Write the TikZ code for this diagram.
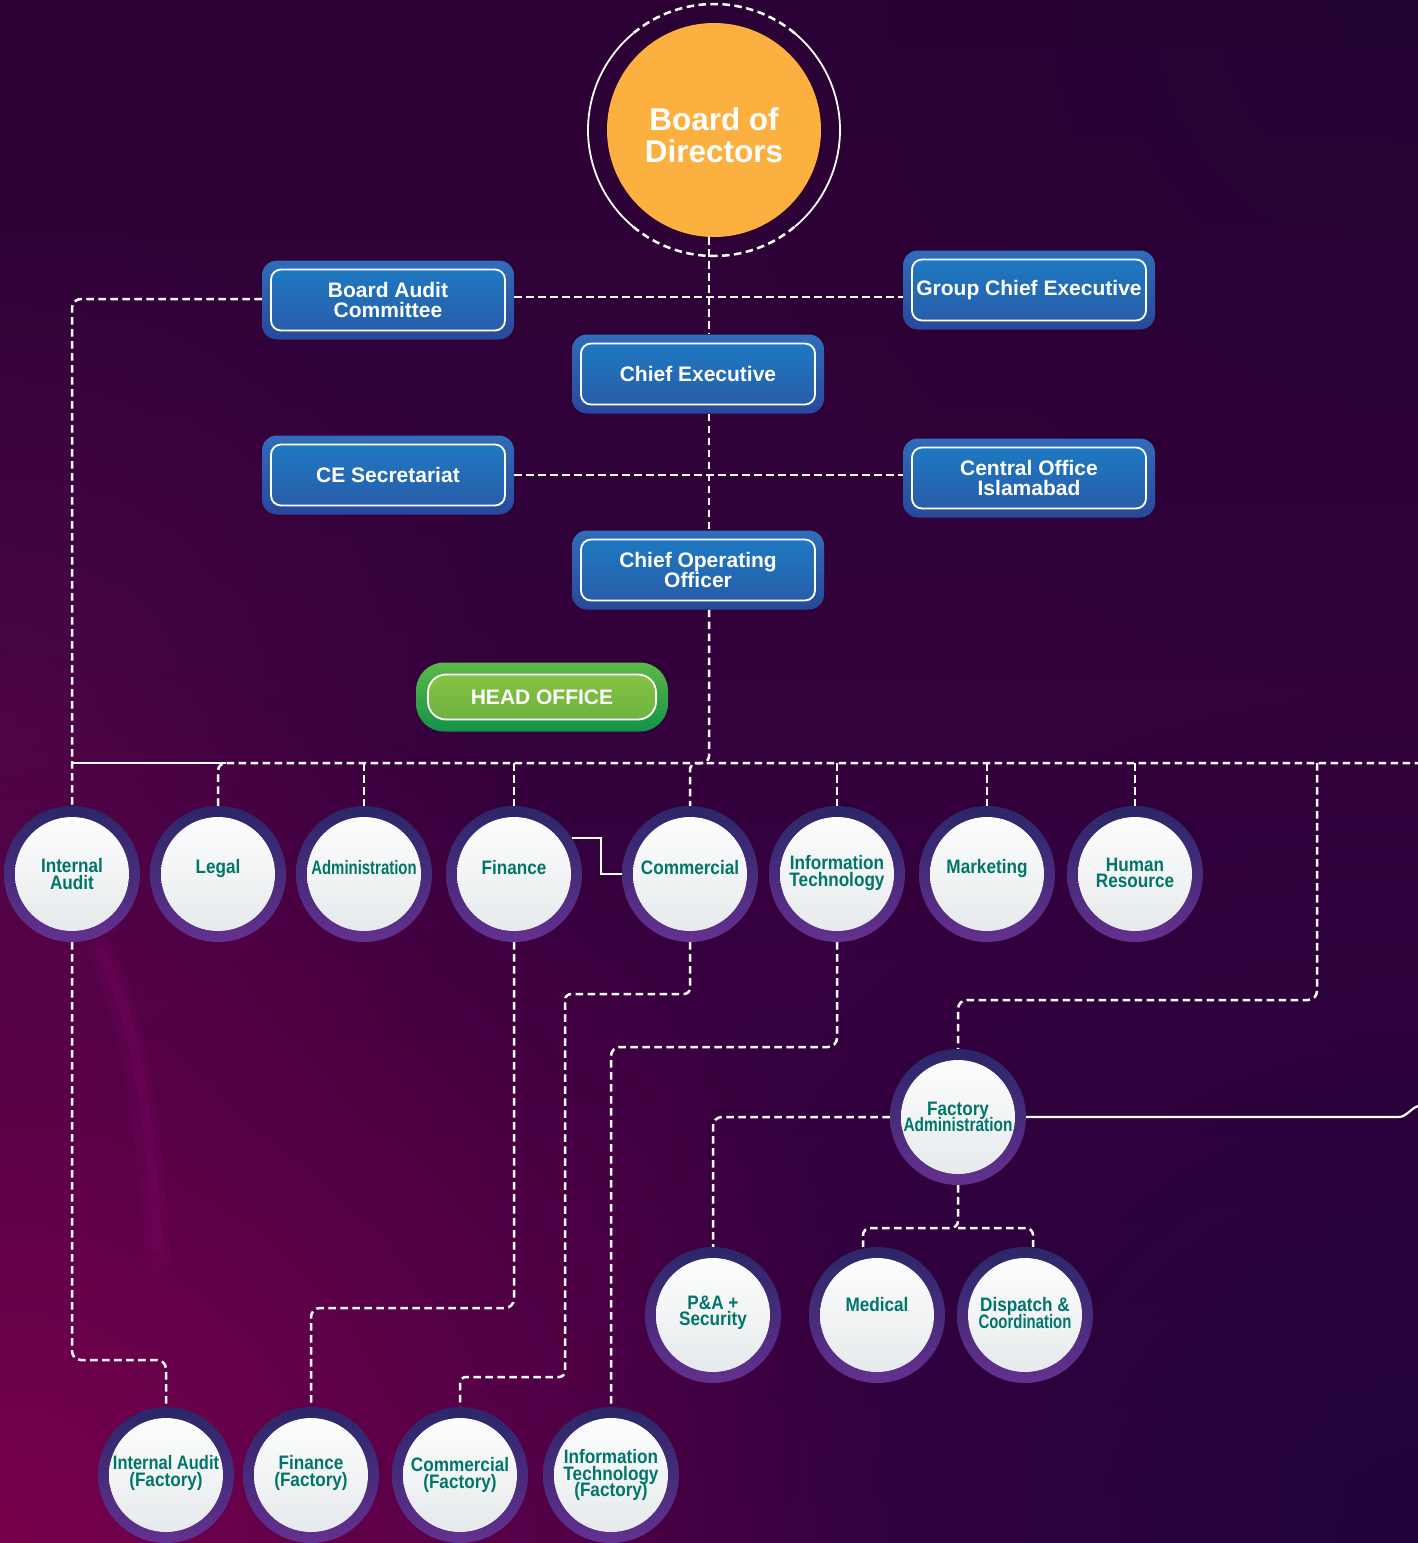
\documentclass[tikz,border=0pt]{standalone}
\usepackage{fontspec}
\usepackage{graphicx}
\setmainfont{Liberation Sans}
\newfontfamily\lblfont[FakeStretch=0.88]{Liberation Sans}
\usetikzlibrary{fadings}
\definecolor{bgTop}{HTML}{2B0134}
\definecolor{bgBot}{HTML}{3C0044}
\definecolor{bgMag}{HTML}{7C004E}
\definecolor{bgMid}{HTML}{55084C}
\definecolor{bgBlue}{HTML}{170535}
\definecolor{streakC}{HTML}{8A0A75}
\definecolor{bodC}{HTML}{FBB040}
\definecolor{bbOutTop}{HTML}{2F6DBA}
\definecolor{bbOutBot}{HTML}{28489A}
\definecolor{bbInTop}{HTML}{1C7DC4}
\definecolor{bbInBot}{HTML}{2A59A6}
\definecolor{gbOutTop}{HTML}{5DB846}
\definecolor{gbOutBot}{HTML}{12924A}
\definecolor{gbInTop}{HTML}{8DC640}
\definecolor{gbInBot}{HTML}{68AE42}
\definecolor{ringTop}{HTML}{2A2768}
\definecolor{ringBot}{HTML}{65308F}
\definecolor{discBot}{HTML}{E4E8EA}
\definecolor{tealC}{HTML}{00766A}
\tikzfading[name=glowfade, inner color=transparent!0, outer color=transparent!100]
\pgfdeclarelayer{back}
\pgfdeclarelayer{lines}
\pgfsetlayers{back,lines,main}
\tikzset{
  dline/.style={white, line width=2.5pt, dash pattern=on 7.5pt off 4.5pt},
  sline/.style={white, line width=2.2pt},
  ringsolid/.style={white, line width=1.8pt},
  bluebox/.style={rectangle, rounded corners=15pt, minimum width=252pt, minimum height=79pt, inner sep=0pt,
    top color=bbOutTop, bottom color=bbOutBot, text=white, align=center,
    font={\bfseries\fontsize{21}{20}\selectfont\lineskiplimit=-20pt},
    path picture={\shadedraw[top color=bbInTop, bottom color=bbInBot, draw=white, line width=1.8pt, rounded corners=10pt]
      ([shift={(9pt,9pt)}]path picture bounding box.south west) rectangle ([shift={(-9pt,-9pt)}]path picture bounding box.north east);}},
  greenbox/.style={rectangle, rounded corners=28pt, minimum width=252pt, minimum height=69pt, inner sep=0pt,
    top color=gbOutTop, bottom color=gbOutBot, text=white, align=center,
    font={\bfseries\fontsize{21}{20}\selectfont},
    path picture={\shadedraw[top color=gbInTop, bottom color=gbInBot, draw=white, line width=1.8pt, rounded corners=18pt]
      ([shift={(12pt,12pt)}]path picture bounding box.south west) rectangle ([shift={(-12pt,-12pt)}]path picture bounding box.north east);}},
  unit/.style={circle, minimum size=136pt, inner sep=0pt, top color=ringTop, bottom color=ringBot,
    path picture={\shade[top color=white, bottom color=discBot] (path picture bounding box.center) circle (57pt);}},
  lbl/.style={text=tealC, align=center, inner sep=0pt,
    font={\lblfont\bfseries\fontsize{19.5}{16.3}\selectfont\lineskiplimit=-20pt}},
}
\newcommand\unitat[4]{\node[unit] (#1) at (#2) {};
  \node[lbl] (#1t) at ([yshift=#4]#1.center) {#3};}
\begin{document}
\begin{tikzpicture}[x=1pt,y=-1pt]
\useasboundingbox (0,0) rectangle (1418,1543);
% ---------- background
\begin{pgfonlayer}{back}
\begin{scope}
\clip (0,0) rectangle (1418,1543);
\shade[top color=bgTop, bottom color=bgBot] (0,0) rectangle (1418,1543);
\fill[bgMid, path fading=glowfade, fill opacity=0.7] (0,720) circle (520pt);
\fill[bgMag, path fading=glowfade, fill opacity=0.95] (0,1543) circle (900pt);
\fill[bgBlue, path fading=glowfade, fill opacity=0.75] (1418,1543) circle (850pt);
\fill[bgBlue, path fading=glowfade, fill opacity=0.4] (1418,0) circle (700pt);
\draw[streakC, line width=26pt, opacity=0.12, line cap=round] (100,950) .. controls (135,1020) and (148,1120) .. (158,1260);
\draw[streakC, line width=10pt, opacity=0.18, line cap=round] (100,950) .. controls (137,1022) and (150,1120) .. (158,1250);
\end{scope}
\end{pgfonlayer}
% ---------- top nodes
\node[circle, fill=bodC, minimum size=214pt, inner sep=0pt] (bod) at (714,130) {};
\node[text=white, align=center, inner sep=0pt, font={\bfseries\fontsize{31.5}{32}\selectfont}]
  (bodt) at ([yshift=-5pt]bod.center) {Board of\\Directors};
\node[bluebox] (bac) at (388,300) {Board Audit\\Committee};
\node[bluebox] (gce) at (1029,290) {Group Chief Executive};
\node[bluebox] (ce) at (698,374) {Chief Executive};
\node[bluebox] (ces) at (388,475) {CE Secretariat};
\node[bluebox] (coi) at (1029,478) {Central Office\\Islamabad};
\node[bluebox] (coo) at (698,570) {Chief Operating\\Officer};
\node[greenbox] (ho) at (542,697) {HEAD OFFICE};
% ---------- units
\unitat{ia}{72,874}{Internal\\Audit}{0pt}
\unitat{lg}{218,874}{Legal}{6pt}
\unitat{ad}{364,874}{\scalebox{0.87}[1]{Administration}}{6pt}
\unitat{fi}{514,874}{Finance}{6pt}
\unitat{cm}{690,874}{Commercial}{6pt}
\unitat{it}{837,874}{Information\\Technology}{1pt}
\unitat{mk}{987,874}{Marketing}{6pt}
\unitat{hr}{1135,874}{Human\\Resource}{1pt}
\unitat{fa}{958,1117}{Factory\\\scalebox{0.9}[1]{Administration}}{0pt}
\unitat{pa}{713,1315}{P\&A +\\Security}{2pt}
\unitat{md}{877,1315}{Medical}{10pt}
\unitat{dc}{1025,1315}{Dispatch \&\\\scalebox{0.87}[1]{Coordination}}{2pt}
\unitat{iaf}{166,1475}{\scalebox{0.96}[1]{Internal Audit}\\(Factory)}{2pt}
\unitat{fif}{311,1475}{Finance\\(Factory)}{2pt}
\unitat{cmf}{460,1475}{Commercial\\(Factory)}{0pt}
\unitat{itf}{611,1475}{Information\\Technology\\(Factory)}{0pt}
% ---------- helper coordinates
\coordinate (sp) at (709,0);
\coordinate (bus) at (0,763);
\coordinate (busR) at (1418,763);
\coordinate (solidEnd) at (226,763);
\coordinate (j1) at (709,297);
\coordinate (j2) at (0,299);
\coordinate (rdrop) at (1317,0);
\coordinate (j3) at (0,1000);
\coordinate (j4) at (0,1360);
\coordinate (j5) at (0,1308);
\coordinate (j6) at (0,994);
\coordinate (j7) at (565,0);
\coordinate (j8) at (0,1377);
\coordinate (j9) at (0,1047);
\coordinate (j10) at (0,1228);
\coordinate (mdin) at ([xshift=-14pt]md.north);
\coordinate (dcin) at ([xshift=8pt]dc.north);
\coordinate (faR) at (1398,0);
\coordinate (edgeR) at (1418,1106);
% ---------- connectors
\begin{pgfonlayer}{lines}
\draw[ringsolid] ([shift={(130:126pt)}]bod.center) arc[start angle=130, end angle=230, radius=126pt];
\draw[ringsolid] ([shift={(-50:126pt)}]bod.center) arc[start angle=-50, end angle=50, radius=126pt];
\draw[dline] ([shift={(50:126pt)}]bod.center) arc[start angle=50, end angle=130, radius=126pt];
\draw[dline] ([shift={(230:126pt)}]bod.center) arc[start angle=230, end angle=310, radius=126pt];
\draw[dline] (bod.south -| sp) -- (ce.north -| sp);
\draw[dline] (ce.south -| sp) -- (coo.north -| sp);
\draw[dline, rounded corners=7pt] (coo.south -| sp) -- (sp |- bus) -- (cm.north |- bus) -- (cm.north);
\draw[dline] (bac.east |- j1) -- (gce.west |- j1);
\draw[dline] (ces.east) -- (ces.east -| coi.west);
\draw[dline, rounded corners=9pt] (bac.west |- j2) -- (ia.north |- j2) -- (ia.north);
\draw[sline] (ia.north |- bus) -- (solidEnd);
\draw[dline, rounded corners=8pt] (lg.north) -- (lg.north |- bus) -- (busR);
\foreach \n in {ad,fi,it,mk,hr} \draw[dline] (\n.north |- bus) -- (\n.north);
\draw[dline, rounded corners=9pt] (rdrop |- bus) -- (rdrop |- j3) -- (fa.north |- j3) -- (fa.north);
\draw[dline, rounded corners=9pt] (ia.south) -- (ia.south |- j4) -- (iaf.north |- j4) -- (iaf.north);
\draw[dline, rounded corners=9pt] (fi.south) -- (fi.south |- j5) -- (fif.north |- j5) -- (fif.north);
\draw[dline, rounded corners=6pt] (cm.south) -- (cm.south |- j6) -- (j7 |- j6) -- (j7 |- j8) -- (cmf.north |- j8) -- (cmf.north);
\draw[dline, rounded corners=9pt] (it.south) -- (it.south |- j9) -- (itf.north |- j9) -- (itf.north);
\draw[dline, rounded corners=9pt] (fa.west) -- (pa.north |- fa.west) -- (pa.north);
\draw[dline, rounded corners=7pt] (fa.south) -- (fa.south |- j10) -- (mdin |- j10) -- (mdin);
\draw[dline, rounded corners=7pt] (fa.south |- j10) -- (dcin |- j10) -- (dcin);
\draw[sline] (fa.east) -- (fa.east -| faR) to[out=0, in=200] (edgeR);
\draw[sline] (fi.32) -- ++(29pt,0) |- (cm.west);
\end{pgfonlayer}
\end{tikzpicture}
\end{document}
